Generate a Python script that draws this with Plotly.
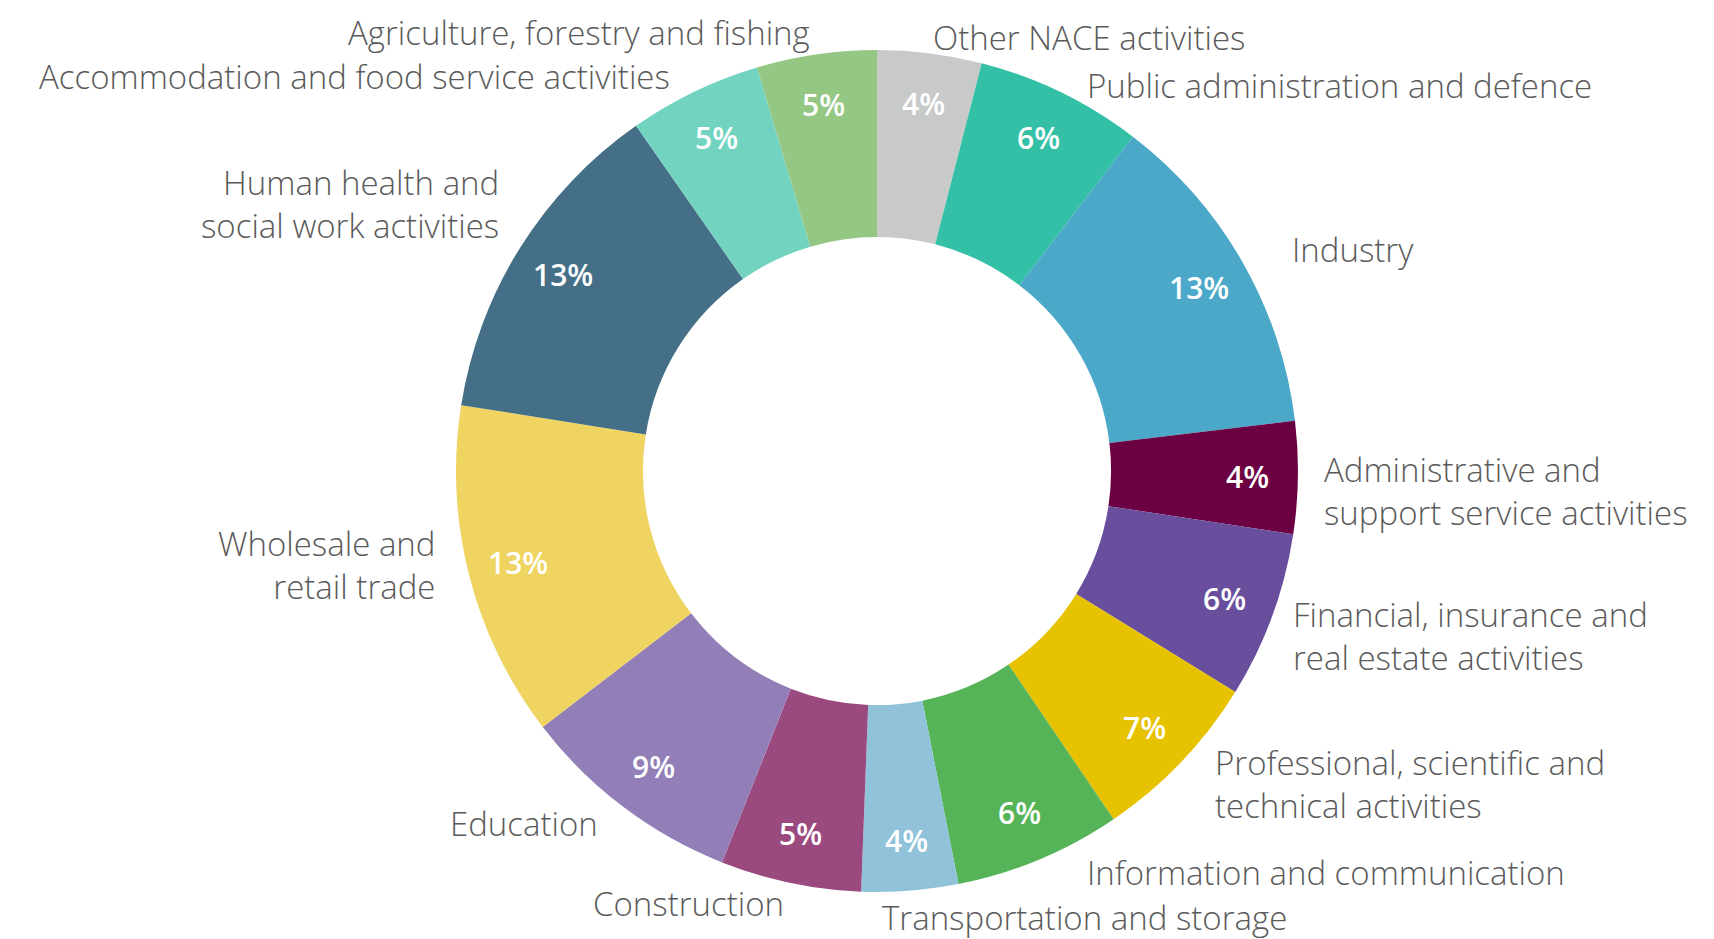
import math
import plotly.graph_objects as go

# ---- data (clockwise from 12 o'clock) ----
sectors = [
    "Other NACE activities",
    "Public administration and defence",
    "Industry",
    "Administrative and<br>support service activities",
    "Financial, insurance and<br>real estate activities",
    "Professional, scientific and<br>technical activities",
    "Information and communication",
    "Transportation and storage",
    "Construction",
    "Education",
    "Wholesale and<br>retail trade",
    "Human health and<br>social work activities",
    "Accommodation and food service activities",
    "Agriculture, forestry and fishing",
]
shares = [4.0, 6.4, 12.7, 4.3, 6.4, 6.7, 6.4, 3.7, 5.4, 8.6, 12.9, 12.8, 5.1, 4.6]
colors = ["#C8C9C9", "#33C0A6", "#4BA8C8", "#6B0042", "#684E9C", "#E6C200",
          "#55B458", "#90C3DA", "#9B4A80", "#937FB8", "#EFD461", "#446F87",
          "#72D4C0", "#94C783"]

# ---- layout (pixels in the page; the page body adds an 8px offset) ----
W, H = 1714, 939
OFF = 8
cx, cy, R = 877 - OFF, 471 - OFF, 421
HOLE = 0.556
TEXT_R = 0.88          # radial position of the percentage labels (fraction of R)
label_pos = [
    (931, 37, "left"), (1085, 85, "left"), (1290, 250, "left"), (1322, 491, "left"),
    (1291, 636, "left"), (1213, 784, "left"), (1085, 872, "left"), (880, 917, "left"),
    (786, 903, "right"), (600, 823, "right"), (437, 565, "right"), (501, 204, "right"),
    (672, 76, "right"), (812, 32, "right"),
]

fig = go.Figure(go.Pie(
    labels=[s.replace("<br>", " ") for s in sectors],
    values=shares,
    sort=False,
    direction="clockwise",
    rotation=0,
    hole=HOLE,
    marker=dict(colors=colors, line=dict(width=0)),
    textinfo="none",
    showlegend=False,
    domain=dict(x=[(cx - R) / W, (cx + R) / W],
                y=[(H - cy - R) / H, (H - cy + R) / H]),
))

def to_paper(px, py):
    return px / W, 1 - py / H

# percentage labels at the slice mid-angles
total = sum(shares)
cum = 0.0
for v in shares:
    mid = (cum + v / 2) / total * 2 * math.pi
    cum += v
    px = cx + TEXT_R * R * math.sin(mid)
    py = cy - TEXT_R * R * math.cos(mid)
    x, y = to_paper(px, py)
    fig.add_annotation(
        x=x, y=y, xref="paper", yref="paper", showarrow=False,
        text=f"{round(v / total * 100)}%", xanchor="center", yanchor="middle",
        font=dict(family="Open Sans", size=30, color="white", weight=600),
    )

# category labels
for name, (lx, ly, side) in zip(sectors, label_pos):
    x, y = to_paper(lx - OFF, ly - OFF)
    fig.add_annotation(
        x=x, y=y, xref="paper", yref="paper",
        text=name, showarrow=False,
        xanchor=side, yanchor="middle", align=side,
        font=dict(family="Open Sans", size=33, color="#5a5a5a", weight=300),
    )

fig.update_layout(
    width=W, height=H,
    margin=dict(l=0, r=0, t=0, b=0),
    paper_bgcolor="white", plot_bgcolor="white",
)

fig.write_html("out.html")
